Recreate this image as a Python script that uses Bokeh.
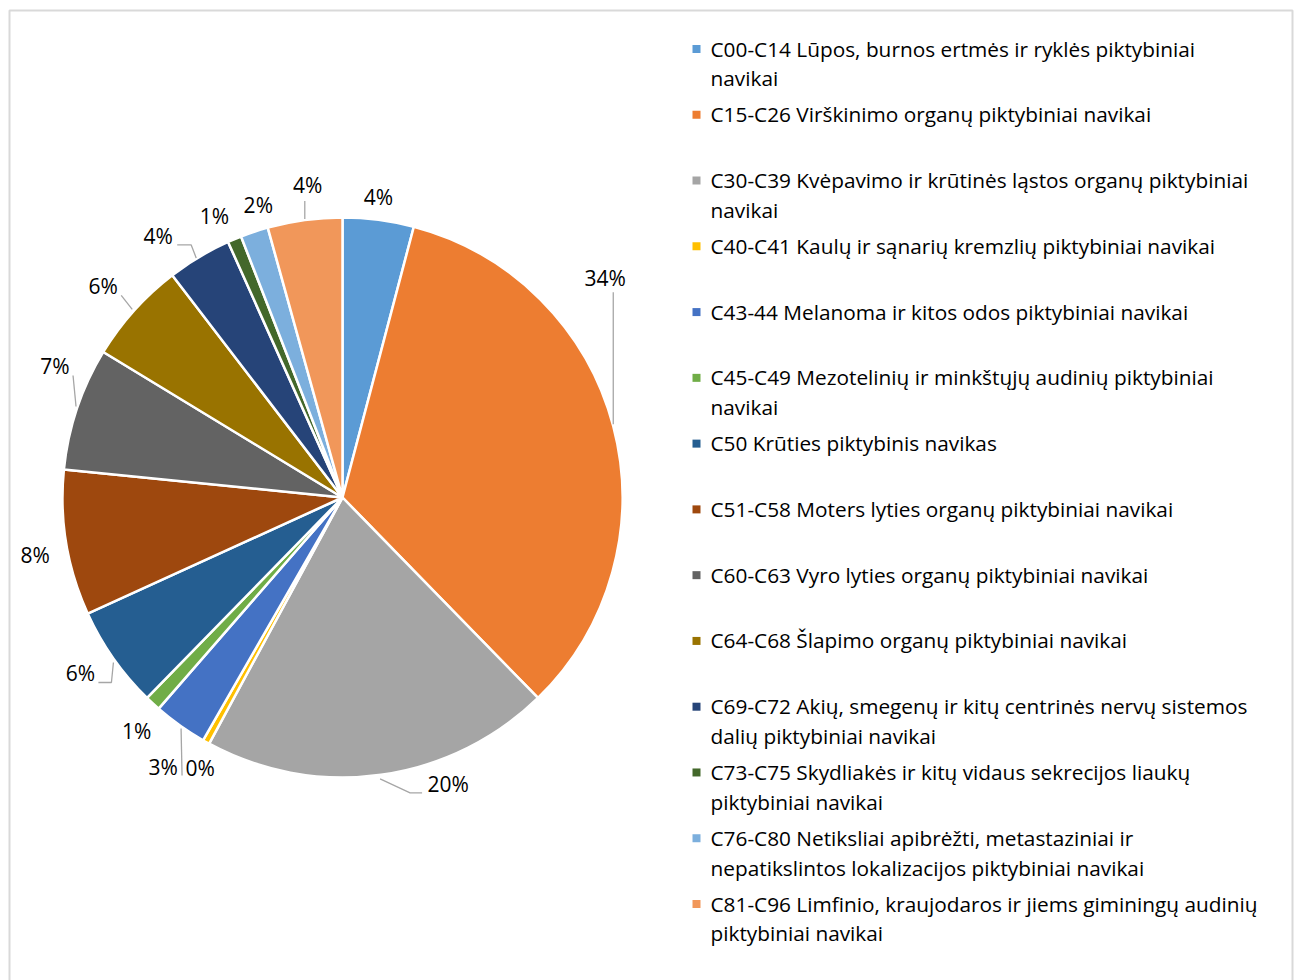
import math

from bokeh.core.properties import value
from bokeh.embed import file_html
from bokeh.models import ColumnDataSource, Range1d
from bokeh.plotting import figure
from bokeh.resources import INLINE

# --- data -------------------------------------------------------------------
categories = [
    "C00-C14 Lūpos, burnos ertmės ir ryklės piktybiniai\nnavikai",
    "C15-C26 Virškinimo organų piktybiniai navikai",
    "C30-C39 Kvėpavimo ir krūtinės ląstos organų piktybiniai\nnavikai",
    "C40-C41 Kaulų ir sąnarių kremzlių piktybiniai navikai",
    "C43-44 Melanoma ir kitos odos piktybiniai navikai",
    "C45-C49 Mezotelinių ir minkštųjų audinių piktybiniai\nnavikai",
    "C50 Krūties piktybinis navikas",
    "C51-C58 Moters lyties organų piktybiniai navikai",
    "C60-C63 Vyro lyties organų piktybiniai navikai",
    "C64-C68 Šlapimo organų piktybiniai navikai",
    "C69-C72 Akių, smegenų ir kitų centrinės nervų sistemos\ndalių piktybiniai navikai",
    "C73-C75 Skydliakės ir kitų vidaus sekrecijos liaukų\npiktybiniai navikai",
    "C76-C80 Netiksliai apibrėžti, metastaziniai ir\nnepatikslintos lokalizacijos piktybiniai navikai",
    "C81-C96 Limfinio, kraujodaros ir jiems giminingų audinių\npiktybiniai navikai",
]
shares = [4.1, 33.6, 20.2, 0.4, 3.1, 0.9, 5.9, 8.4, 7.1, 5.9, 3.7, 0.8, 1.6, 4.3]
colors = [
    "#5B9BD5", "#ED7D31", "#A5A5A5", "#FFC000", "#4472C4", "#70AD47", "#255E91",
    "#9E480E", "#636363", "#997300", "#264478", "#43682B", "#7CAFDD", "#F1975A",
]

# --- layout (screen pixels, y measured downward) -----------------------------
W, H = 1299, 980
CX, CY, R = 342, 497, 280
FONT = "Open Sans"
TEXT_COLOR = "#000000"
LEADER_COLOR = "#A6A6A6"

# label offset from the slice's outer mid-point
label_nudge = [
    (0, -23), (-8, -148), (67, 9), (-6, 26), (-17, 41), (-16, 28), (-33, 14),
    (-31, 12), (-22, -42), (-31, -24), (-41, -21), (-20, -23), (4, -27), (3, -35),
]
# leader polylines, relative to the slice's outer mid-point
leaders = {
    1: [(0, -2), (0, -134)],
    2: [(-1, 4), (29, 18), (41, 18)],
    4: [(1, 3), (2, 50)],
    6: [(0, 4), (-2, 24), (-15, 24)],
    8: [(-1, -2), (-4, -33)],
    9: [(-2, -1), (-13, -15)],
    10: [(-3, 1), (-8, -12), (-22, -12)],
    13: [(0, -1), (0, -19)],
}

LEG_X_MARK, LEG_X_TEXT = 696, 710
LEG_Y0, LEG_STEP, LEG_LINE = 48, 65.77, 29.8


def to_data(sx, sy):
    return sx, -sy


p = figure(
    width=W, height=H, x_range=Range1d(0, W), y_range=Range1d(-H, 0),
    output_backend="svg", toolbar_location=None, min_border=0,
    x_axis_location=None, y_axis_location=None, outline_line_color=None,
)
p.xgrid.visible = False
p.ygrid.visible = False
p.background_fill_color = "white"
p.border_fill_color = "white"

# chart frame (no bottom edge in view)
p.quad(left=9, right=1292, top=-10, bottom=-1100, fill_color=None,
       line_color="#D9D9D9", line_width=2)

# --- pie -----------------------------------------------------------------------
total = sum(shares)
cum = 0.0
starts, ends, mids = [], [], []
for v in shares:
    f0 = cum / total
    cum += v
    f1 = cum / total
    starts.append(math.pi / 2 - 2 * math.pi * f0)
    ends.append(math.pi / 2 - 2 * math.pi * f1)
    mids.append(2 * math.pi * (f0 + f1) / 2)

cx, cy = to_data(CX, CY)
src = ColumnDataSource(dict(start=starts, end=ends, color=colors))
p.wedge(x=cx, y=cy, radius=R, start_angle="start", end_angle="end",
        direction="clock", fill_color="color", line_color="white",
        line_width=2.5, source=src)

# --- data labels -------------------------------------------------------------
lx, ly, ltxt = [], [], []
for i, (v, th) in enumerate(zip(shares, mids)):
    ex = CX + R * math.sin(th)
    ey = CY - R * math.cos(th)
    dx, dy = label_nudge[i]
    x, y = to_data(ex + dx, ey + dy)
    lx.append(x)
    ly.append(y)
    ltxt.append(f"{round(v / total * 100)}%")
    if i in leaders:
        pts = [to_data(ex + ox, ey + oy) for ox, oy in leaders[i]]
        p.line([q[0] for q in pts], [q[1] for q in pts],
               line_color=LEADER_COLOR, line_width=1.3)

p.text(x=lx, y=ly, text=ltxt, text_align="center", text_baseline="middle",
       text_font=value(FONT), text_font_size="21px", text_color=TEXT_COLOR)

# --- legend ------------------------------------------------------------------
mx, my, tx, ty, tt = [], [], [], [], []
for i, name in enumerate(categories):
    row = LEG_Y0 + i * LEG_STEP
    x, y = to_data(LEG_X_MARK, row + 0.5)
    mx.append(x)
    my.append(y)
    for k, line in enumerate(name.split("\n")):
        x, y = to_data(LEG_X_TEXT, row + k * LEG_LINE)
        tx.append(x)
        ty.append(y)
        tt.append(line)

p.rect(x=mx, y=my, width=8, height=8, width_units="screen", height_units="screen",
       fill_color=colors, line_color=None)
p.text(x=tx, y=ty, text=tt, text_align="left", text_baseline="middle",
       text_font=value(FONT), text_font_size="20.8px", text_color=TEXT_COLOR)

open("out.html", "w").write(file_html(p, INLINE))
